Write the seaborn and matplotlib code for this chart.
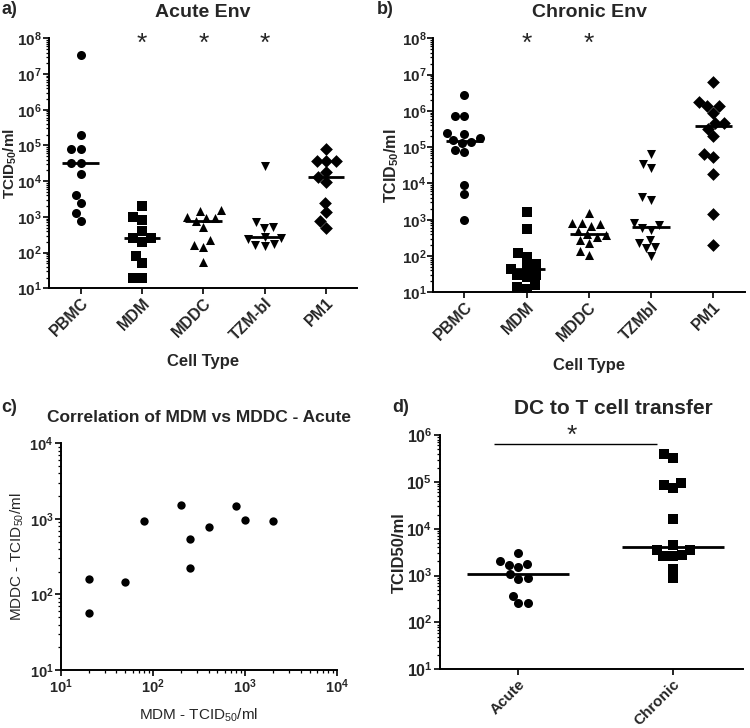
import numpy as np
import matplotlib.pyplot as plt
import seaborn as sns

sns.set_style("ticks")
plt.rcParams['font.family'] = ['Liberation Sans', 'DejaVu Sans']
plt.rcParams['font.weight'] = 'bold'
plt.rcParams['axes.labelweight'] = 'bold'
plt.rcParams['mathtext.default'] = 'regular'

# ---- data ----
cells_acute = ['PBMC', 'MDM', 'MDDC', 'TZM-bl', 'PM1']
cells_chronic = ['PBMC', 'MDM', 'MDDC', 'TZMbl', 'PM1']
markers = ['o', 's', '^', 'v', 'D']

acute_pbmc = [3.3e7, 2.0e5, 7.9e4, 7.9e4, 3.2e4, 3.2e4, 1.6e4, 4.1e3, 2.5e3, 1.3e3, 780]
acute_mdm = [2000, 1000, 800, 400, 250, 250, 200, 80, 50, 20, 20]
acute_mddc = [1520, 1480, 975, 940, 940, 776, 535, 224, 162, 148, 56]
acute_tzm = [27000, 700, 520, 500, 280, 250, 240, 170, 160, 155]
acute_pm1 = [79000, 36000, 36000, 36000, 18000, 13000, 9600, 2500, 1400, 760, 490]

chronic_pbmc = [2.8e6, 7.2e5, 7.2e5, 2.5e5, 2.3e5, 1.8e5, 1.6e5, 1.4e5, 1.3e5, 8.3e4, 7.5e4, 9e3, 5e3, 1e3]
chronic_mdm = [1660, 560, 120, 96, 60, 50, 45, 30, 30, 27, 16, 14, 12]
chronic_mddc = [1580, 830, 800, 760, 680, 500, 410, 380, 325, 275, 235, 138, 107]
chronic_tzm = [63000, 35000, 26000, 4100, 3400, 800, 700, 600, 525, 275, 235, 174, 162, 100]
chronic_pm1 = [6.1e6, 1.8e6, 1.4e6, 1.4e6, 9e5, 4.7e5, 4.7e5, 3.2e5, 2.0e5, 6.3e4, 5.5e4, 1.8e4, 1450, 200]

corr_mdm = [20, 20, 50, 80, 200, 250, 250, 400, 800, 1000, 2000]
corr_mddc = [162, 56, 148, 940, 1520, 535, 224, 776, 1480, 975, 940]

transfer_groups = ['Acute', 'Chronic']
transfer_acute = [3100, 2000, 1800, 1700, 1550, 1070, 890, 850, 370, 255, 255]
transfer_chronic = [3.9e5, 3.3e5, 9.5e4, 8.5e4, 7.4e4, 1.58e4, 4.5e3, 3.6e3, 3.6e3, 2.8e3, 2.6e3, 2.6e3, 1.4e3, 890]


def style_axis(ax, lsize=11.5, pad=1.5):
    sns.despine(ax=ax)
    for s in ['left', 'bottom']:
        ax.spines[s].set_linewidth(1.4)
        ax.spines[s].set_color('black')
    ax.tick_params(which='major', length=4, width=1.2, color='black', labelsize=lsize, pad=pad)
    ax.tick_params(which='minor', length=2.2, width=0.9, color='black')


def dot_panel(ax, cats, groups, mks, top, half=0.3, lsize=11.5, pad=1.5):
    ax.set_yscale('log')
    for i, vals in enumerate(groups):
        sns.swarmplot(x=[cats[i]] * len(vals), y=vals, order=cats, marker=mks[i],
                      color='black', size=6.5, ax=ax)
        ax.hlines(np.median(vals), i - half, i + half, color='black', lw=2, zorder=4)
    ax.set_yticks([10.0 ** k for k in range(1, top + 1)])
    ax.set_ylim(10, 10.0 ** top)
    style_axis(ax, lsize, pad)
    ax.tick_params(axis='x', which='minor', length=0)
    plt.setp(ax.get_xticklabels(), rotation=45, ha='right', rotation_mode='anchor', fontsize=11.5)


fig = plt.figure(figsize=(7.5, 7.28), dpi=100)

# a) Acute Env
ax_a = fig.add_axes([49 / 750, 1 - 288.3 / 728, 307.7 / 750, 250 / 728])
dot_panel(ax_a, cells_acute, [acute_pbmc, acute_mdm, acute_mddc, acute_tzm, acute_pm1], markers, 8,
          lsize=11, pad=1)
ax_a.set_xlim(-0.517, 4.5)
ax_a.set_title('Acute Env', fontsize=14, fontweight='bold', pad=15)
ax_a.set_ylabel(r'TCID$_{50}$/ml', fontsize=11)
ax_a.yaxis.set_label_coords(-0.0975, 0.5)
ax_a.set_xlabel('Cell Type', fontsize=12, labelpad=8)
for i in [1, 2, 3]:
    ax_a.text(i, 10 ** 7.85, '*', ha='center', va='center', fontsize=19, fontweight='normal')

# b) Chronic Env
ax_b = fig.add_axes([433.3 / 750, 1 - 292.3 / 728, 311.7 / 750, 254 / 728])
dot_panel(ax_b, cells_chronic, [chronic_pbmc, chronic_mdm, chronic_mddc, chronic_tzm, chronic_pm1], markers, 8,
          lsize=11, pad=1)
ax_b.set_xlim(-0.5, 4.51)
ax_b.set_title('Chronic Env', fontsize=14, fontweight='bold', pad=15)
ax_b.set_ylabel(r'TCID$_{50}$/ml', fontsize=11.5)
ax_b.yaxis.set_label_coords(-0.105, 0.5)
ax_b.set_xlabel('Cell Type', fontsize=12, labelpad=10)
for i in [1, 2]:
    ax_b.text(i, 10 ** 7.85, '*', ha='center', va='center', fontsize=19, fontweight='normal')

# c) correlation
ax_c = fig.add_axes([61 / 750, 1 - 670 / 728, 276.3 / 750, 226.7 / 728])
ax_c.set_xscale('log')
ax_c.set_yscale('log')
sns.scatterplot(x=corr_mdm, y=corr_mddc, color='black', s=36, linewidth=0, ax=ax_c)
ax_c.set_xticks([10.0 ** k for k in range(1, 5)])
ax_c.set_yticks([10.0 ** k for k in range(1, 5)])
ax_c.set_xlim(10, 1e4)
ax_c.set_ylim(10, 1e4)
style_axis(ax_c, 10.5)
ax_c.set_title('Correlation of MDM vs MDDC - Acute', fontsize=12.5, fontweight='bold', pad=15)
ax_c.set_ylabel(r'MDDC - TCID$_{50}$/ml', fontsize=11, fontweight='normal')
ax_c.set_xlabel(r'MDM - TCID$_{50}$/ml', fontsize=11, fontweight='normal')
ax_c.yaxis.set_label_coords(-0.125, 0.5)
ax_c.xaxis.set_label_coords(0.5, -0.16)

# d) DC to T cell transfer
ax_d = fig.add_axes([440 / 750, 1 - 669.3 / 728, 303.3 / 750, 234.3 / 728])
dot_panel(ax_d, transfer_groups, [transfer_acute, transfer_chronic], ['o', 's'], 6, half=0.33)
plt.setp(ax_d.get_xticklabels(), fontsize=11)
ax_d.set_xlim(-0.507, 1.457)
ax_d.set_title('DC to T cell transfer', fontsize=15, fontweight='bold', pad=15, x=0.57)
ax_d.set_ylabel('TCID50/ml', fontsize=12)
ax_d.yaxis.set_label_coords(-0.108, 0.5)
ax_d.hlines(10 ** 5.8, -0.157, 0.896, color='black', lw=1, clip_on=False)
ax_d.text(0.346, 10 ** 5.98, '*', ha='center', va='center', fontsize=19, fontweight='normal', clip_on=False)

# panel letters
fig.text(0.002, 1 - 9 / 728, 'a)', fontsize=13, fontweight='bold', va='center')
fig.text(377 / 750, 1 - 9 / 728, 'b)', fontsize=13, fontweight='bold', va='center')
fig.text(0.002, 1 - 408 / 728, 'c)', fontsize=13, fontweight='bold', va='center')
fig.text(392 / 750, 1 - 408 / 728, 'd)', fontsize=13, fontweight='bold', va='center')

fig.savefig('out.png', dpi=100)
